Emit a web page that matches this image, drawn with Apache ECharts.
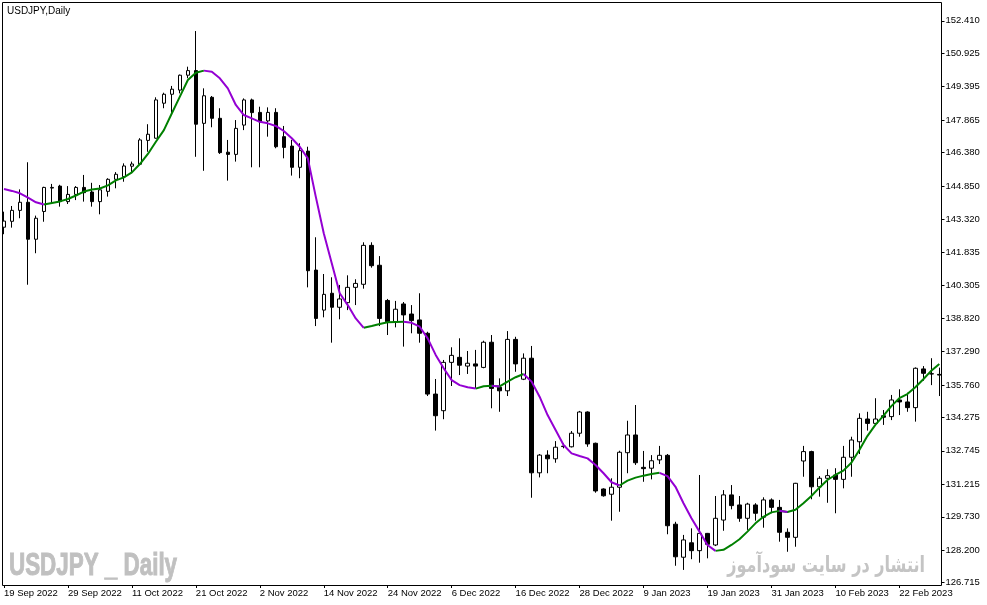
<!DOCTYPE html>
<html>
<head>
<meta charset="utf-8">
<title>USDJPY,Daily</title>
<script src="https://cdn.jsdelivr.net/npm/echarts@6.0.0/dist/echarts.min.js"></script>
<style>
  html, body { margin: 0; padding: 0; background: #fff; }
  #chart { width: 987px; height: 605px; }
</style>
</head>
<body>
<div id="chart"></div>
<script>
// daily bars, 19 Sep 2022 .. 1 Mar 2023
var dates = [
  '19 Sep 2022','20 Sep 2022','21 Sep 2022','22 Sep 2022','23 Sep 2022','26 Sep 2022','27 Sep 2022','28 Sep 2022','29 Sep 2022','30 Sep 2022',
  '3 Oct 2022','4 Oct 2022','5 Oct 2022','6 Oct 2022','7 Oct 2022','10 Oct 2022','11 Oct 2022','12 Oct 2022','13 Oct 2022','14 Oct 2022',
  '17 Oct 2022','18 Oct 2022','19 Oct 2022','20 Oct 2022','21 Oct 2022','24 Oct 2022','25 Oct 2022','26 Oct 2022','27 Oct 2022','28 Oct 2022',
  '31 Oct 2022','1 Nov 2022','2 Nov 2022','3 Nov 2022','4 Nov 2022','7 Nov 2022','8 Nov 2022','9 Nov 2022','10 Nov 2022','11 Nov 2022',
  '14 Nov 2022','15 Nov 2022','16 Nov 2022','17 Nov 2022','18 Nov 2022','21 Nov 2022','22 Nov 2022','23 Nov 2022','24 Nov 2022','25 Nov 2022',
  '28 Nov 2022','29 Nov 2022','30 Nov 2022','1 Dec 2022','2 Dec 2022','5 Dec 2022','6 Dec 2022','7 Dec 2022','8 Dec 2022','9 Dec 2022',
  '12 Dec 2022','13 Dec 2022','14 Dec 2022','15 Dec 2022','16 Dec 2022','19 Dec 2022','20 Dec 2022','21 Dec 2022','22 Dec 2022','23 Dec 2022',
  '26 Dec 2022','27 Dec 2022','28 Dec 2022','29 Dec 2022','30 Dec 2022','2 Jan 2023','3 Jan 2023','4 Jan 2023','5 Jan 2023','6 Jan 2023',
  '9 Jan 2023','10 Jan 2023','11 Jan 2023','12 Jan 2023','13 Jan 2023','16 Jan 2023','17 Jan 2023','18 Jan 2023','19 Jan 2023','20 Jan 2023',
  '23 Jan 2023','24 Jan 2023','25 Jan 2023','26 Jan 2023','27 Jan 2023','30 Jan 2023','31 Jan 2023','1 Feb 2023','2 Feb 2023','3 Feb 2023',
  '6 Feb 2023','7 Feb 2023','8 Feb 2023','9 Feb 2023','10 Feb 2023','13 Feb 2023','14 Feb 2023','15 Feb 2023','16 Feb 2023','17 Feb 2023',
  '20 Feb 2023','21 Feb 2023','22 Feb 2023','23 Feb 2023','24 Feb 2023','27 Feb 2023','28 Feb 2023','1 Mar 2023'
];

var openVals = [
  142.97,143.24,143.74,144.11,142.42,143.69,144.76,144.85,144.14,144.47,
  144.79,144.58,144.14,144.61,145.16,145.28,145.76,145.85,146.94,147.04,
  148.64,149.05,149.24,149.92,150.13,147.72,148.91,147.95,146.40,146.30,
  147.64,148.79,148.22,147.83,148.22,147.11,146.68,145.71,146.45,141.01,
  139.18,139.95,139.31,139.52,140.22,140.36,142.14,141.23,139.62,138.65,
  139.46,139.00,138.73,138.12,135.34,134.58,136.79,137.02,136.62,136.72,
  136.56,137.71,135.65,135.49,137.84,136.02,136.98,131.74,132.55,132.38,
  132.96,132.93,133.55,134.52,133.09,131.00,130.76,131.08,132.66,133.47,
  131.99,131.95,132.33,132.54,129.39,127.88,128.54,128.18,128.97,128.44,
  129.58,130.73,130.27,129.66,130.27,129.71,130.50,130.16,129.02,128.79,
  132.28,132.71,131.10,131.49,131.64,131.44,132.45,133.16,134.20,134.00,
  134.35,134.31,135.07,134.98,134.72,136.49,136.27,136.24
];
var closeVals = [
  143.25,143.74,144.11,142.42,143.38,144.79,144.79,144.14,144.47,144.79,
  144.55,144.14,144.68,145.16,145.39,145.77,145.86,146.96,147.22,148.79,
  149.05,149.28,149.92,150.13,147.68,148.98,147.95,146.38,146.30,147.49,
  148.79,148.21,147.79,148.22,146.65,146.62,145.71,146.47,140.98,138.80,
  139.90,139.31,139.69,140.22,140.40,142.14,141.21,138.80,138.65,139.22,
  138.96,138.70,138.12,135.34,134.35,136.79,137.11,136.66,136.75,136.62,
  137.71,135.60,135.49,137.84,136.72,136.98,131.74,132.55,132.38,132.91,
  132.94,133.55,134.52,133.06,130.91,130.69,131.08,132.68,133.47,132.20,
  131.93,132.29,132.54,129.32,127.90,128.67,128.18,128.97,128.47,129.66,
  130.73,130.24,129.66,130.31,129.89,130.50,130.16,129.02,128.79,131.26,
  132.71,131.10,131.49,131.61,131.44,132.45,133.24,134.23,134.00,134.20,
  134.28,135.07,134.98,134.72,136.52,136.29,136.26,136.21
];
var lowVals = [
  142.65,142.95,143.38,140.34,141.78,143.22,144.06,143.91,144.03,144.21,
  144.14,143.91,143.56,144.37,144.75,145.05,145.44,145.81,146.42,147.02,
  148.41,148.18,149.09,149.78,146.19,145.55,147.54,146.32,145.10,145.97,
  147.41,145.71,145.71,147.11,146.58,146.12,145.33,145.21,140.22,138.45,
  138.85,137.69,138.76,139.18,139.41,140.16,141.12,138.45,138.04,138.39,
  137.51,138.12,137.69,135.25,133.67,134.19,135.71,136.21,136.26,135.60,
  136.52,134.69,134.53,135.25,136.36,135.98,130.60,131.53,131.72,132.20,
  132.86,132.90,133.39,132.93,130.83,130.65,129.55,129.96,131.72,132.10,
  131.33,131.44,132.14,128.93,127.49,127.30,127.79,127.63,127.83,128.39,
  129.09,130.07,129.50,129.13,129.55,129.23,129.89,128.59,128.13,128.36,
  131.56,130.53,130.65,130.37,129.89,131.03,131.56,132.60,133.67,133.97,
  133.93,134.15,134.38,134.53,134.08,135.95,135.75,135.25
];
var highVals = [
  143.68,143.94,144.70,145.94,143.50,144.82,144.95,144.91,144.85,144.85,
  145.36,145.00,144.90,145.21,145.49,145.89,145.97,147.04,147.68,148.91,
  149.12,149.43,149.95,150.31,151.94,149.32,148.97,148.41,146.96,147.87,
  148.86,148.85,148.48,148.45,148.41,147.60,146.96,146.81,146.65,142.51,
  140.83,140.68,140.33,140.77,140.59,142.28,142.28,141.65,139.69,139.60,
  139.55,139.41,139.95,138.19,136.03,136.90,137.48,137.89,137.31,137.36,
  137.78,138.04,136.06,138.22,137.96,137.20,137.54,132.60,132.77,133.19,
  133.09,133.65,134.57,134.55,133.12,131.03,131.49,132.75,134.12,134.84,
  132.74,132.55,132.97,132.60,129.50,128.90,129.20,131.64,128.99,130.68,
  130.95,131.18,130.68,130.37,130.35,130.62,130.57,130.50,129.20,131.28,
  132.97,132.75,131.59,131.90,131.95,132.97,133.39,134.46,134.53,135.15,
  134.61,135.30,135.56,135.40,136.56,136.62,136.98,136.55
];
// moving average drawn on the chart
var maVals = [
  144.72,144.63,144.52,144.32,144.11,144.01,144.08,144.15,144.26,144.42,
  144.60,144.69,144.74,144.88,145.11,145.25,145.48,145.86,146.32,146.88,
  147.41,148.18,148.94,149.70,150.03,150.13,150.08,149.78,149.32,148.56,
  148.10,147.95,147.79,147.72,147.60,147.37,147.04,146.65,146.12,144.37,
  142.69,141.32,139.95,139.41,138.80,138.37,138.45,138.54,138.62,138.64,
  138.65,138.60,138.42,137.89,137.13,136.52,135.98,135.75,135.65,135.59,
  135.70,135.72,135.69,135.91,136.11,136.26,135.91,135.22,134.38,133.70,
  133.01,132.63,132.51,132.40,132.10,131.72,131.31,131.16,131.38,131.52,
  131.61,131.69,131.74,131.59,131.10,130.35,129.66,129.05,128.44,128.17,
  128.22,128.44,128.70,129.05,129.43,129.73,129.93,130.00,129.95,130.05,
  130.35,130.68,131.06,131.41,131.64,131.84,132.20,132.78,133.42,133.93,
  134.34,134.79,135.15,135.34,135.65,136.02,136.41,136.72
];
var priceTicks = [126.715,128.200,129.730,131.215,132.745,134.275,135.760,137.290,138.820,
  140.305,141.835,143.320,144.850,146.380,147.865,149.395,150.925,152.410];

var candles = [];
for (var i = 0; i < dates.length; i++) {
  candles.push([openVals[i], closeVals[i], lowVals[i], highVals[i]]);
}

// split the average into rising / falling pieces for the two colours
var maUp = [], maDown = [];
for (var i = 0; i < maVals.length; i++) { maUp.push(null); maDown.push(null); }
for (var i = 1; i < maVals.length; i++) {
  var target = maVals[i] >= maVals[i - 1] ? maUp : maDown;
  target[i - 1] = maVals[i - 1];
  target[i] = maVals[i];
}

var chart = echarts.init(document.getElementById('chart'));
var labelFont = '"Liberation Sans", Arial, sans-serif';

var option = {
  animation: false,
  backgroundColor: '#ffffff',
  grid: { left: -0.7, top: 2.5, width: 944, height: 582.5 },
  xAxis: {
    type: 'category',
    data: dates,
    boundaryGap: true,
    axisLine: { show: false },
    axisTick: { show: true, interval: 7, alignWithLabel: true, length: 3, lineStyle: { color: '#000' } },
    axisLabel: {
      interval: 7, align: 'left', margin: 3,
      color: '#000', fontSize: 9.5, fontFamily: labelFont
    },
    splitLine: { show: false }
  },
  yAxis: {
    type: 'value',
    position: 'right',
    offset: -1.8,
    min: 126.61,
    max: 153.245,
    axisLine: { show: false },
    axisTick: { show: true, length: 3, customValues: priceTicks, lineStyle: { color: '#000' } },
    axisLabel: {
      customValues: priceTicks, margin: 4,
      color: '#000', fontSize: 9.5, fontFamily: labelFont,
      formatter: function (v) { return v.toFixed(3); }
    },
    splitLine: { show: false }
  },
  series: [
    {
      type: 'candlestick',
      data: candles,
      barWidth: 4,
      itemStyle: {
        color: '#ffffff', color0: '#000000',
        borderColor: '#000000', borderColor0: '#000000',
        borderWidth: 1
      },
      z: 2
    },
    {
      type: 'line', data: maUp, symbol: 'none', connectNulls: false,
      lineStyle: { color: '#008000', width: 2 }, z: 3
    },
    {
      type: 'line', data: maDown, symbol: 'none', connectNulls: false,
      lineStyle: { color: '#9400d3', width: 2 }, z: 3
    }
  ],
  graphic: [
    {
      type: 'rect', z: 10, silent: true,
      shape: { x: 2.5, y: 2.5, width: 939, height: 583 },
      style: { fill: 'none', stroke: '#000', lineWidth: 1 }
    },
    {
      type: 'text', x: 7, y: 11, z: 10,
      style: { text: 'USDJPY,Daily', fill: '#000', font: '10px ' + labelFont, verticalAlign: 'middle' }
    },
    {
      type: 'text', x: 9, y: 566, scaleX: 0.7, z: 0,
      style: {
        text: 'USDJPY _ Daily', fill: '#c0c0c0', stroke: '#c0c0c0', lineWidth: 1,
        font: 'bold 32px "Liberation Sans", Arial, sans-serif', verticalAlign: 'middle'
      }
    },
    {
      type: 'text', x: 925, y: 566, scaleX: 0.73, z: 0,
      style: {
        text: 'انتشار در سایت سودآموز', fill: '#c4c4c4',
        font: 'bold 22px "DejaVu Sans", sans-serif', align: 'right', verticalAlign: 'middle'
      }
    }
  ]
};

chart.setOption(option);
</script>
</body>
</html>
